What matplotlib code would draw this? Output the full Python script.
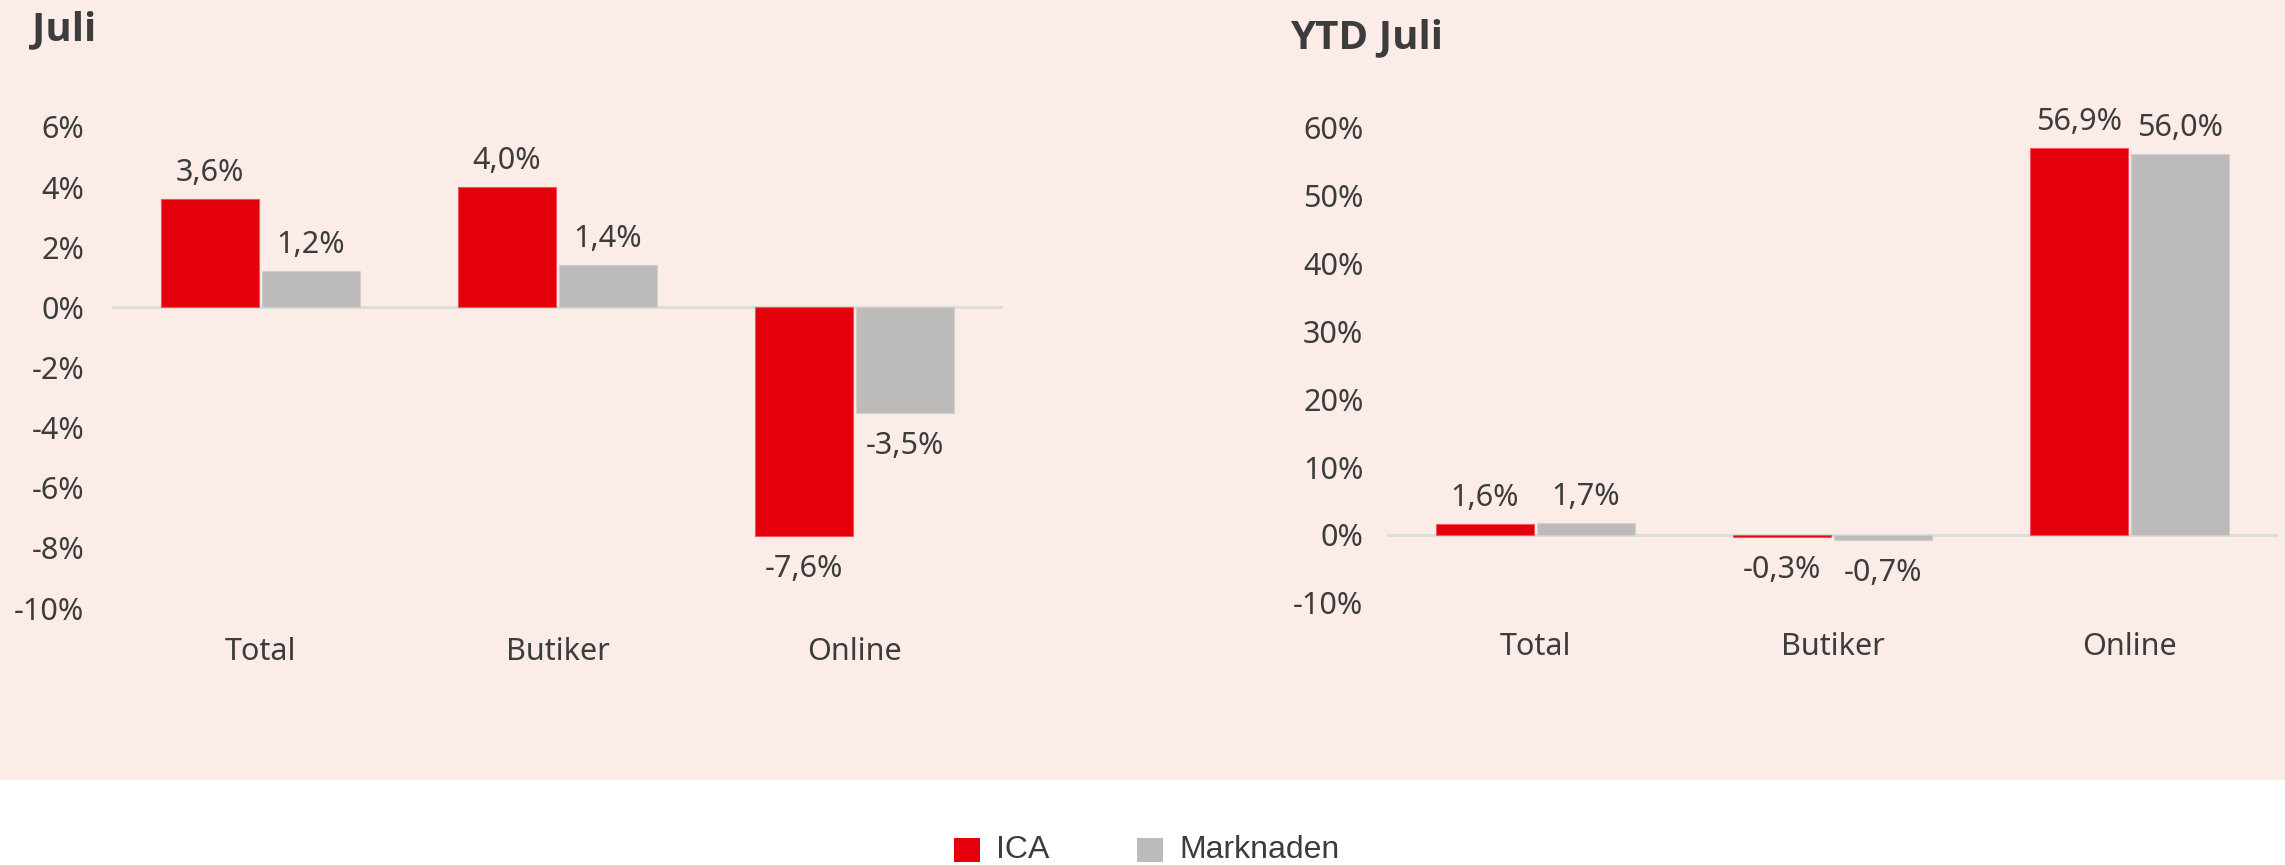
import numpy as np
import matplotlib
matplotlib.use("Agg")
import matplotlib.pyplot as plt
from matplotlib.patches import Rectangle

# data
categories = ["Total", "Butiker", "Online"]
series_names = ["ICA", "Marknaden"]
juli_ica = [3.6, 4.0, -7.6]
juli_market = [1.2, 1.4, -3.5]
ytd_ica = [1.6, -0.3, 56.9]
ytd_market = [1.7, -0.7, 56.0]
juli_ticks = [-10, -8, -6, -4, -2, 0, 2, 4, 6]
ytd_ticks = [-10, 0, 10, 20, 30, 40, 50, 60]

RED = "#E3000B"
GRAY = "#BCBBB9"
BG = "#FBECE8"
TXT = "#3C3C3C"

plt.rcParams["font.family"] = ["Noto Sans", "DejaVu Sans"]

W, H = 2285, 865
fig = plt.figure(figsize=(W / 100, H / 100), dpi=100, facecolor="white")
fig.patches.append(Rectangle((0, 1 - 780 / H), 1, 780 / H, transform=fig.transFigure,
                             facecolor=BG, edgecolor="none", zorder=-10))


def fmt(v):
    return f"{v:.1f}".replace(".", ",") + "%"


def draw(ax, ica, mkt, ticks, title, title_xy, ypad):
    x = np.arange(len(categories))
    w = 0.33
    off = 0.17
    ax.set_facecolor("none")
    b1 = ax.bar(x - off, ica, w, color=RED, edgecolor="#F2545B", linewidth=0.8, zorder=3)
    b2 = ax.bar(x + off, mkt, w, color=GRAY, edgecolor="#D2D0CE", linewidth=0.8, zorder=3)
    ax.axhline(0, color="#DDDDDD", linewidth=2.2, zorder=2)
    ax.set_xlim(-0.5, len(categories) - 0.5)
    ax.set_ylim(ticks[0], ticks[-1])
    ax.set_yticks(ticks)
    ax.set_yticklabels([f"{t}%" for t in ticks])
    ax.set_xticks(x)
    ax.set_xticklabels(categories)
    for s in ax.spines.values():
        s.set_visible(False)
    ax.tick_params(axis="both", length=0, labelsize=22, colors=TXT)
    ax.tick_params(axis="y", pad=ypad)
    ax.tick_params(axis="x", pad=21)
    for bars, vals in ((b1, ica), (b2, mkt)):
        for b, v in zip(bars, vals):
            cx = b.get_x() + b.get_width() / 2
            dy = 19 if v >= 0 else -24
            ax.annotate(fmt(v), (cx, v), xytext=(0, dy), textcoords="offset points",
                        ha="center", va="center", fontsize=22, color=TXT, zorder=4)
    fig.text(title_xy[0] / W, 1 - title_xy[1] / H, title, fontsize=29, fontweight="bold",
             family=["Open Sans", "DejaVu Sans"], color=TXT, ha="left", va="baseline")


ax1 = fig.add_axes([112 / W, 1 - 608 / H, 891 / W, 481 / H])
draw(ax1, juli_ica, juli_market, juli_ticks, "Juli", (32, 40), 20)

ax2 = fig.add_axes([1387 / W, 1 - 603 / H, 891 / W, 476 / H])
draw(ax2, ytd_ica, ytd_market, ytd_ticks, "YTD Juli", (1290, 48), 17)

# legend
legend_items = [(954, RED, series_names[0]), (1137, GRAY, series_names[1])]
for lx, col, name in legend_items:
    fig.patches.append(Rectangle((lx / W, 1 - 862 / H), 26 / W, 24 / H, transform=fig.transFigure,
                                 facecolor=col, edgecolor="none"))
    fig.text((lx + 42) / W, 1 - 850 / H, name, fontsize=23, color=TXT,
             family=["Liberation Sans", "DejaVu Sans"], ha="left", va="center")

fig.savefig("out.png", dpi=100, facecolor="white")
